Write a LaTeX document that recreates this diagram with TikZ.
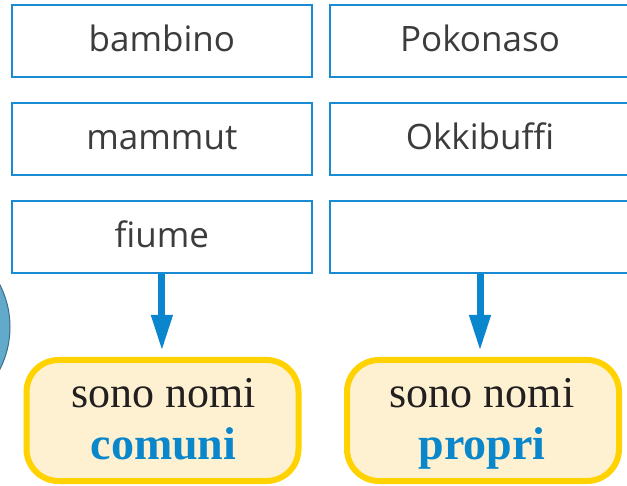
\documentclass[tikz,border=0pt]{standalone}
\usepackage{fontspec}
\setmainfont{Liberation Serif}
\newfontfamily\boxfont{Open Sans}
\usetikzlibrary{arrows.meta}
\definecolor{boxblue}{HTML}{1A8BD3}
\definecolor{arrowblue}{HTML}{0A86CF}
\definecolor{yborder}{HTML}{FFD200}
\definecolor{yfill}{HTML}{FEF1D1}
\definecolor{txtgray}{HTML}{3C3C3C}
\definecolor{txtdark}{HTML}{231F20}
\definecolor{wordblue}{HTML}{0A87CB}
\definecolor{circfill}{HTML}{62AACB}
\definecolor{circline}{HTML}{3D6E8C}
\tikzset{
  wordbox/.style={draw=boxblue, line width=2.5pt, rectangle, minimum width=300pt,
    minimum height=72pt, inner sep=0pt, text height=26pt, text depth=4.2pt,
    font=\boxfont\fontsize{35}{40}\selectfont, text=txtgray},
  resultbox/.style={draw=yborder, fill=yfill, line width=6pt, rectangle,
    rounded corners=32pt, minimum width=272pt, minimum height=121pt, inner sep=0pt},
  plain/.style={font=\fontsize{44}{52}\selectfont, text=txtdark, anchor=base, inner sep=0pt},
  strong/.style={font=\bfseries\fontsize{46}{52}\selectfont, text=wordblue, anchor=base, inner sep=0pt},
  flow/.style={draw=arrowblue, line width=7pt, -{Triangle[width=20pt,length=36pt]}, shorten >=6pt}
}
\begin{document}
\begin{tikzpicture}[x=1pt,y=-1pt]
\useasboundingbox (0,0) rectangle (627,486);
\begin{scope}
\clip (0,0) rectangle (627,486);
\fill[circfill, draw=circline, line width=1pt] (-83,327) circle (93);
\node[wordbox] (b1) at (161.9,40.8) {bambino};
\node[wordbox] (b2) at (161.9,139) {mammut};
\node[wordbox] (b3) at (161.9,237) {fiume};
\node[wordbox] (p1) at (480,40.8) {Pokonaso};
\node[wordbox] (p2) at (480,139) {Okkibuffi};
\node[wordbox] (p3) at (480,237) {};
\node[resultbox] (c) at (162.5,420.5) {};
\node[resultbox] (p) at (483,420.5) {};
\node[plain] (c1) at (163.5,408) {sono nomi};
\node[strong] (c2) at (163.5,460) {comuni};
\node[plain] (q1) at (482,408) {sono nomi};
\node[strong] (q2) at (482,460) {propri};
\draw[flow] (b3.south) -- (c.north -| b3.south);
\draw[flow] (p3.south) -- (p.north -| p3.south);
\end{scope}
\end{tikzpicture}
\end{document}
